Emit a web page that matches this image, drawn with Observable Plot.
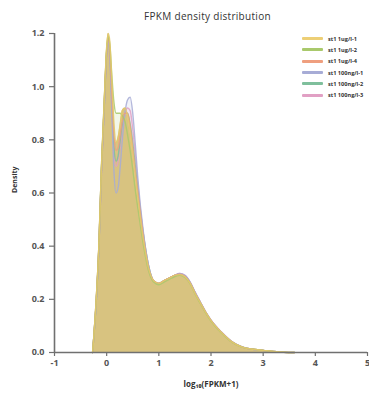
<!DOCTYPE html>
<html>
<head>
<meta charset="utf-8">
<script src="https://cdn.jsdelivr.net/npm/d3@7"></script>
<script src="https://cdn.jsdelivr.net/npm/@observablehq/plot@0.6"></script>
<style>
  html, body { margin: 0; padding: 0; background: #fff; }
  #wrap { position: relative; width: 369px; height: 396px; overflow: hidden; font-family: "Open Sans", sans-serif; }
  #title { height: 26px; line-height: 32px; text-align: center; padding-left: 46px; font-size: 10px; color: #333; letter-spacing: 0.3px; }
  #legend { position: absolute; left: 302px; top: 33px; }
  .row { display: flex; align-items: center; height: 11.3px; white-space: nowrap; }
  .sw { width: 21px; height: 3px; margin-right: 5px; border-radius: 1px; }
  .lab { font-size: 5.6px; color: #333; font-weight: 700; }
</style>
</head>
<body>
<div id="wrap">
  <div id="title">FPKM density distribution</div>
  <div id="legend"></div>
  <div id="chart"></div>
</div>
<script>
// Sample names and their colours
const samples = ["st1 1ug/l-1", "st1 1ug/l-2", "st1 1ug/l-4", "st1 100ng/l-1", "st1 100ng/l-2", "st1 100ng/l-3"];
const colors = ["#edcf76", "#a9c96c", "#ef9f7f", "#a7acd6", "#7fbf9c", "#e1a0c4"];

// Shared grid of log10(FPKM+1) values
const grid = [-0.27, -0.25, -0.2, -0.15, -0.1, -0.05, 0, 0.03, 0.06, 0.1, 0.14, 0.18, 0.22, 0.26, 0.3, 0.35, 0.4, 0.45, 0.5, 0.55, 0.6, 0.7, 0.8, 0.9, 1.0, 1.1, 1.2, 1.3, 1.4, 1.5, 1.6, 1.7, 1.8, 1.9, 2.0, 2.2, 2.4, 2.6, 2.8, 3.0, 3.2, 3.4, 3.6];

// Density estimates per sample, one value per grid point
const dens1 = [0, 0.05, 0.2, 0.4, 0.7, 0.93, 1.15, 1.2, 1.17, 1.02, 0.86, 0.79, 0.81, 0.86, 0.91, 0.92, 0.89, 0.83, 0.75, 0.66, 0.58, 0.43, 0.32, 0.27, 0.26, 0.27, 0.28, 0.29, 0.293, 0.285, 0.26, 0.22, 0.185, 0.15, 0.12, 0.075, 0.04, 0.02, 0.012, 0.008, 0.004, 0.001, 0];
const dens2 = [0, 0.05, 0.2, 0.4, 0.7, 0.93, 1.14, 1.19, 1.16, 1.04, 0.94, 0.9, 0.9, 0.9, 0.89, 0.87, 0.82, 0.76, 0.69, 0.61, 0.54, 0.41, 0.31, 0.265, 0.255, 0.265, 0.275, 0.285, 0.29, 0.282, 0.258, 0.218, 0.183, 0.148, 0.118, 0.073, 0.039, 0.02, 0.012, 0.008, 0.004, 0.001, 0];
const dens3 = [0, 0.05, 0.2, 0.4, 0.69, 0.92, 1.13, 1.18, 1.14, 0.97, 0.82, 0.76, 0.77, 0.82, 0.87, 0.9, 0.9, 0.85, 0.77, 0.68, 0.6, 0.44, 0.32, 0.27, 0.26, 0.27, 0.28, 0.29, 0.295, 0.287, 0.262, 0.222, 0.186, 0.151, 0.121, 0.076, 0.04, 0.02, 0.012, 0.008, 0.004, 0.001, 0];
const dens4 = [0, 0.05, 0.19, 0.39, 0.68, 0.9, 1.12, 1.17, 1.12, 0.9, 0.68, 0.6, 0.62, 0.7, 0.8, 0.9, 0.95, 0.96, 0.9, 0.78, 0.65, 0.46, 0.33, 0.27, 0.26, 0.27, 0.28, 0.29, 0.297, 0.29, 0.265, 0.225, 0.188, 0.152, 0.122, 0.077, 0.041, 0.021, 0.012, 0.008, 0.004, 0.001, 0];
const dens5 = [0, 0.05, 0.19, 0.39, 0.69, 0.91, 1.13, 1.18, 1.13, 0.94, 0.77, 0.72, 0.74, 0.8, 0.86, 0.9, 0.9, 0.86, 0.79, 0.7, 0.61, 0.45, 0.33, 0.27, 0.26, 0.27, 0.28, 0.29, 0.295, 0.288, 0.263, 0.223, 0.187, 0.151, 0.121, 0.076, 0.04, 0.02, 0.012, 0.008, 0.004, 0.001, 0];
const dens6 = [0, 0.05, 0.19, 0.39, 0.68, 0.91, 1.12, 1.17, 1.12, 0.92, 0.74, 0.7, 0.72, 0.78, 0.85, 0.9, 0.92, 0.91, 0.84, 0.74, 0.63, 0.45, 0.33, 0.27, 0.26, 0.27, 0.28, 0.29, 0.297, 0.29, 0.265, 0.225, 0.188, 0.152, 0.122, 0.077, 0.041, 0.021, 0.012, 0.008, 0.004, 0.001, 0];

const xTicks = [-1, 0, 1, 2, 3, 4, 5];
const yTicks = [0, 0.2, 0.4, 0.6, 0.8, 1.0, 1.2];

const seriesValues = [dens1, dens2, dens3, dens4, dens5, dens6];
const rows = seriesValues.flatMap((vals, i) =>
  vals.map((d, j) => ({sample: samples[i], x: grid[j], y: d, order: i}))
);
const first = rows.filter(r => r.order === 0);
const others = rows.filter(r => r.order !== 0);

const axisColor = "#707070";
const tickFont = {fontSize: 9, fontWeight: 700, fill: "#555"};

const chart = Plot.plot({
  width: 369,
  height: 370,
  marginTop: 7,
  marginBottom: 44,
  marginLeft: 54,
  marginRight: 2,
  style: {fontFamily: "Open Sans, sans-serif", background: "transparent"},
  x: {type: "linear", domain: [-1, 5], axis: null},
  y: {type: "linear", domain: [0, 1.2], axis: null},
  color: {domain: samples, range: colors},
  marks: [
    // faint overlapping fills of the other samples (not stacked)
    Plot.areaY(others, {x: "x", y1: 0, y2: "y", z: "sample", fill: "sample", fillOpacity: 0.15, curve: "monotone-x"}),
    // main filled density
    Plot.areaY(first, {x: "x", y1: 0, y2: "y", fill: "#d8c27d", fillOpacity: 0.97, curve: "monotone-x"}),
    // outlines of all samples
    Plot.lineY([...others].reverse(), {x: "x", y: "y", z: "sample", stroke: "sample", strokeWidth: 1.4, strokeOpacity: 0.85, curve: "monotone-x"}),
    Plot.lineY(first, {x: "x", y: "y", stroke: "#e2c86a", strokeWidth: 1.4, strokeOpacity: 0.9, curve: "monotone-x"}),
    // axes
    Plot.ruleX([-1], {stroke: axisColor, strokeWidth: 1.6}),
    Plot.ruleY([0], {stroke: axisColor, strokeWidth: 1.6}),
    Plot.axisX(xTicks, {tickSize: 4, tickPadding: 3, stroke: axisColor, strokeWidth: 1.2, ...tickFont,
      tickFormat: d => String(d), label: null}),
    Plot.axisY(yTicks, {tickSize: 5, tickPadding: 5, stroke: axisColor, strokeWidth: 1.2, ...tickFont,
      tickFormat: d3.format(".1f"), label: null}),
    Plot.text(["log\u2081\u2080(FPKM+1)"], {frameAnchor: "bottom", dy: 34, fontSize: 8, fontWeight: 700, fill: "#333"}),
    Plot.text(["Density"], {frameAnchor: "left", dx: -40, rotate: -90, fontSize: 7, fontWeight: 700, fill: "#333"})
  ]
});
document.getElementById("chart").appendChild(chart);

// legend
const legend = document.getElementById("legend");
samples.forEach((s, i) => {
  const row = document.createElement("div");
  row.className = "row";
  row.innerHTML = `<div class="sw" style="background:${colors[i]}"></div><div class="lab">${s}</div>`;
  legend.appendChild(row);
});
</script>
</body>
</html>
